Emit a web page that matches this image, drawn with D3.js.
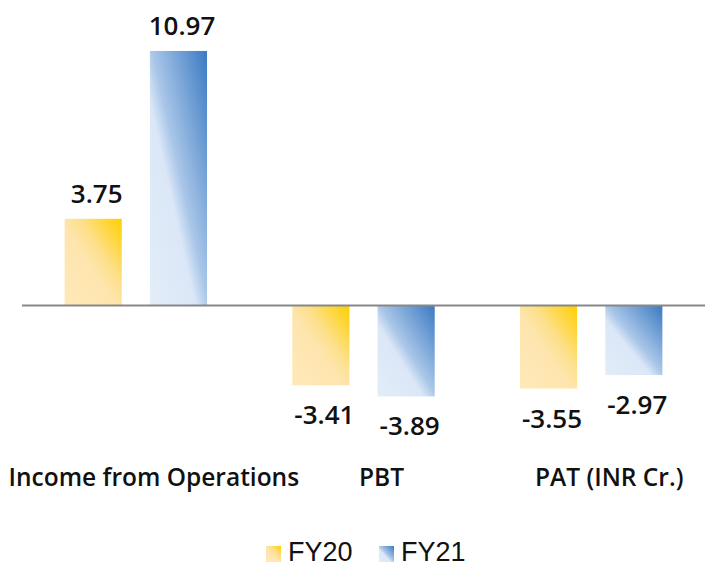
<!DOCTYPE html>
<html>
<head>
<meta charset="utf-8">
<script src="https://cdn.jsdelivr.net/npm/d3@7"></script>
<style>
  body { margin: 0; background: #fff; }
  svg { display: block; }
</style>
</head>
<body>
<div id="chart"></div>
<script>
// data
var categories = ["Income from Operations", "PBT", "PAT (INR Cr.)"];
var series = ["FY20", "FY21"];
var fy20 = [3.75, -3.41, -3.55];
var fy21 = [10.97, -3.89, -2.97];
var labels = {FY20: ["3.75", "-3.41", "-3.55"], FY21: ["10.97", "-3.89", "-2.97"]};

var width = 712, height = 568;

var svg = d3.select("#chart").append("svg")
    .attr("width", width)
    .attr("height", height);

// gradients
var defs = svg.append("defs");
var grads = {
  FY20: [[0, "#ffe9b9"], [0.45, "#fee5ae"], [0.62, "#fde08c"], [1, "#ffcf00"]],
  FY21: [[0, "#e3edf9"], [0.4, "#dbe7f7"], [0.52, "#a9c6e8"], [1, "#3a7ac2"]]
};
series.forEach(function(s) {
  var g = defs.append("linearGradient")
      .attr("id", "grad" + s)
      .attr("x1", 0).attr("y1", 1)
      .attr("x2", 1).attr("y2", 0);
  grads[s].forEach(function(st) {
    g.append("stop").attr("offset", st[0]).attr("stop-color", st[1]);
  });
});

// scales
var x0 = d3.scaleBand()
    .domain(categories)
    .range([22, 705]);

var x1 = d3.scaleBand()
    .domain(series)
    .range([0, x0.bandwidth()])
    .paddingInner(0.33)
    .paddingOuter(0.5);

var y = d3.scaleLinear()
    .domain([-5, 12])
    .range([306 + 5 * 23.25, 306 - 12 * 23.25]);

var rows = [];
categories.forEach(function(c, i) {
  rows.push({cat: c, s: "FY20", v: fy20[i], label: labels.FY20[i]});
  rows.push({cat: c, s: "FY21", v: fy21[i], label: labels.FY21[i]});
});

// bars
svg.selectAll(".bar")
    .data(rows)
  .enter().append("rect")
    .attr("class", "bar")
    .attr("x", function(d) { return x0(d.cat) + x1(d.s); })
    .attr("y", function(d) { return y(Math.max(0, d.v)); })
    .attr("width", x1.bandwidth())
    .attr("height", function(d) { return Math.abs(y(d.v) - y(0)); })
    .attr("fill", function(d) { return "url(#grad" + d.s + ")"; });

// zero line
svg.append("line")
    .attr("x1", 22).attr("x2", 705)
    .attr("y1", y(0) - 0.5).attr("y2", y(0) - 0.5)
    .attr("stroke", "#878787")
    .attr("stroke-width", 2);

// value labels
svg.selectAll(".vlabel")
    .data(rows)
  .enter().append("text")
    .attr("class", "vlabel")
    .attr("x", function(d) { return x0(d.cat) + x1(d.s) + x1.bandwidth() / 2 + 3.5; })
    .attr("y", function(d) { return d.v >= 0 ? y(d.v) - 16 : y(d.v) + 39; })
    .attr("text-anchor", "middle")
    .style("font-family", "'Open Sans', sans-serif")
    .style("font-weight", 600)
    .style("font-size", "26px")
    .style("fill", "#111")
    .text(function(d) { return d.label; });

// category labels
svg.selectAll(".xlabel")
    .data(categories)
  .enter().append("text")
    .attr("class", "xlabel")
    .attr("x", function(d) { return x0(d) + x0.bandwidth() / 2 + 18; })
    .attr("y", 486)
    .attr("text-anchor", "middle")
    .style("font-family", "'Open Sans', sans-serif")
    .style("font-weight", 600)
    .style("font-size", "24.5px")
    .style("fill", "#111")
    .text(function(d) { return d; });

// legend
var legend = svg.append("g").attr("transform", "translate(266,546)");
var legItem = legend.selectAll(".leg")
    .data(series)
  .enter().append("g")
    .attr("class", "leg")
    .attr("transform", function(d, i) { return "translate(" + (i * 113) + ",0)"; });

legItem.append("rect")
    .attr("width", 15)
    .attr("height", 16)
    .attr("fill", function(d) { return "url(#grad" + d + ")"; });

legItem.append("text")
    .attr("x", 22)
    .attr("y", 15)
    .style("font-family", "'Liberation Sans', Arial, sans-serif")
    .style("font-size", "27px")
    .style("fill", "#111")
    .text(function(d) { return d; });
</script>
</body>
</html>
